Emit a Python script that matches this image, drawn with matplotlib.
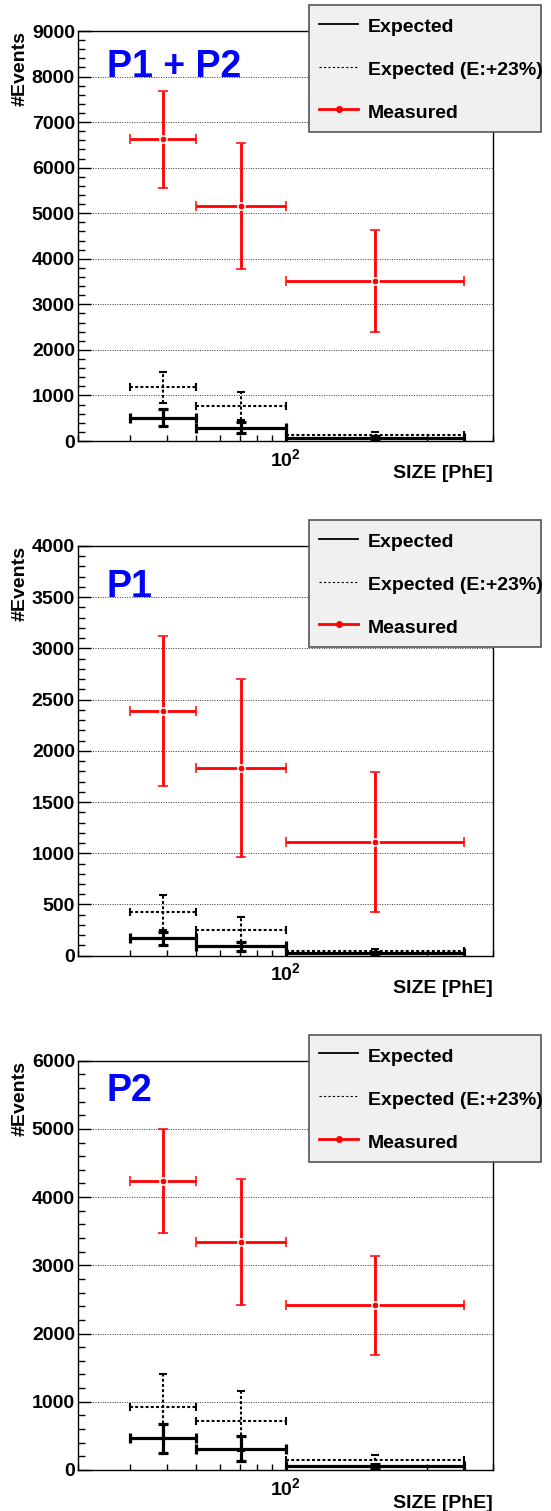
import numpy as np
import matplotlib
matplotlib.use('Agg')
import matplotlib.pyplot as plt
from matplotlib.ticker import MultipleLocator, FixedLocator, FuncFormatter, LogLocator, NullFormatter
from matplotlib.lines import Line2D

plt.rcParams['font.family'] = ['Liberation Sans', 'DejaVu Sans']
plt.rcParams['font.weight'] = 'bold'
plt.rcParams['mathtext.fontset'] = 'custom'
plt.rcParams['mathtext.rm'] = 'Liberation Sans:bold'
plt.rcParams['mathtext.bf'] = 'Liberation Sans:bold'
plt.rcParams['mathtext.it'] = 'Liberation Sans:bold:italic'

# ---------------- data ----------------
bin_lo = [30, 50, 100]
bin_hi = [50, 100, 400]
bin_center = [38.7, 70.7, 200.0]

panel_titles = ['P1 + P2', 'P1', 'P2']
legend_labels = ['Expected', 'Expected (E:+23%)', 'Measured']
x_label = 'SIZE [PhE]'
y_label = '#Events'
y_max = [9000, 4000, 6000]
y_major = [1000, 500, 1000]
y_minor = [200, 100, 200]

# P1 + P2
meas_p12 = [6620, 5160, 3515]
meas_err_p12 = [1065, 1390, 1115]
exp_p12 = [514, 293, 75]
exp_err_p12 = [185, 125, 40]
exp23_p12 = [1175, 770, 132]
exp23_err_p12 = [340, 310, 66]

# P1
meas_p1 = [2390, 1833, 1107]
meas_err_p1 = [730, 867, 683]
exp_p1 = [170, 92, 25]
exp_err_p1 = [65, 45, 15]
exp23_p1 = [424, 254, 44]
exp23_err_p1 = [170, 121, 22]

# P2
meas_p2 = [4237, 3339, 2414]
meas_err_p2 = [768, 923, 728]
exp_p2 = [464, 313, 54]
exp_err_p2 = [215, 180, 30]
exp23_p2 = [929, 723, 142]
exp23_err_p2 = [474, 440, 78]

panels = [
    (meas_p12, meas_err_p12, exp_p12, exp_err_p12, exp23_p12, exp23_err_p12),
    (meas_p1, meas_err_p1, exp_p1, exp_err_p1, exp23_p1, exp23_err_p1),
    (meas_p2, meas_err_p2, exp_p2, exp_err_p2, exp23_p2, exp23_err_p2),
]

# ---------------- layout (pixels) ----------------
W, H = 551, 1511
fig = plt.figure(figsize=(W / 100, H / 100), dpi=100)
fig.patch.set_facecolor('white')

ax_left, ax_right = 78, 493
ax_tops = [31, 546, 1060.7]
ax_bots = [441, 955.7, 1470]
title_base = [77, 596.7, 1100.7]
legend_tops = [5, 520, 1034.7]
legend_left, legend_right, legend_h = 309, 541, 128

xc = np.array(bin_center)
xerr = [xc - np.array(bin_lo), np.array(bin_hi) - xc]

for i, (meas, meas_err, exp, exp_err, e23, e23_err) in enumerate(panels):
    top, bot = ax_tops[i], ax_bots[i]
    ax = fig.add_axes([ax_left / W, 1 - bot / H, (ax_right - ax_left) / W, (bot - top) / H])
    ax.set_xscale('log')
    ax.set_xlim(20, 500)
    ax.set_ylim(0, y_max[i])

    # dashed expected (E:+23%)
    eb = ax.errorbar(xc, e23, xerr=xerr, yerr=e23_err, fmt='none', ecolor='black',
                     elinewidth=1.5, capsize=3.2, capthick=1.5, zorder=3)
    for lc in eb[2]:
        lc.set_linestyle((0, (1.4, 1.1)))
    # solid expected
    ax.errorbar(xc, exp, xerr=xerr, yerr=exp_err, fmt='none', ecolor='black',
                elinewidth=2.3, capsize=3.5, capthick=2.3, zorder=4)
    # measured
    ax.errorbar(xc, meas, xerr=xerr, yerr=meas_err, fmt='o', color='red', ecolor='red',
                ms=5.2, mfc='red', mec='white', mew=1.1,
                elinewidth=2.0, capsize=3.5, capthick=2.0, zorder=5)

    # axes styling
    for s in ax.spines.values():
        s.set_linewidth(1.0)
        s.set_color('black')
    ax.yaxis.set_major_locator(MultipleLocator(y_major[i]))
    ax.yaxis.set_minor_locator(MultipleLocator(y_minor[i]))
    ax.xaxis.set_major_locator(FixedLocator([100]))
    ax.xaxis.set_major_formatter(FuncFormatter(lambda v, p: r'$\mathrm{10^{2}}$'))
    ax.xaxis.set_minor_locator(LogLocator(base=10, subs=np.arange(2, 10)))
    ax.xaxis.set_minor_formatter(NullFormatter())
    ax.tick_params(axis='y', which='major', direction='in', length=9, width=1.0,
                   pad=2.2, labelsize=14, right=False)
    ax.tick_params(axis='y', which='minor', direction='in', length=5, width=1.0, right=False)
    ax.tick_params(axis='x', which='major', direction='in', length=6.5, width=1.0,
                   pad=5, labelsize=14, top=False)
    ax.tick_params(axis='x', which='minor', direction='in', length=4.3, width=1.0, top=False)
    for lab in ax.get_yticklabels() + ax.get_xticklabels():
        lab.set_fontweight('bold')

    ax.yaxis.grid(True, which='major', linestyle=(0, (1, 1.5)), color='#333333', linewidth=0.7)
    ax.set_axisbelow(True)

    ax.set_ylabel(y_label, fontsize=14, fontweight='bold', loc='top')
    ax.yaxis.set_label_coords((20 - ax_left) / (ax_right - ax_left), 1.0)
    ax.yaxis.label.set_verticalalignment('center')
    ax.set_xlabel(x_label, fontsize=14, fontweight='bold', loc='right')
    ax.xaxis.set_label_coords(1.0, -33 / (bot - top))
    ax.xaxis.label.set_verticalalignment('center')

    fig.text(107 / W, 1 - title_base[i] / H, panel_titles[i], fontsize=27,
             fontweight='bold', color='#0000ff', va='baseline', ha='left')

    h1 = Line2D([], [], color='black', lw=1.3)
    h2 = Line2D([], [], color='black', lw=0.8, ls=(0, (2, 2)))
    h3 = Line2D([], [], color='red', lw=2.0, marker='o', ms=4)
    ltop = legend_tops[i]
    leg = ax.legend([h1, h2, h3], legend_labels, loc='upper left',
                    bbox_to_anchor=(legend_left / W, 1 - (ltop + legend_h) / H,
                                    (legend_right - legend_left) / W, legend_h / H),
                    bbox_transform=fig.transFigure, mode='expand', borderaxespad=0,
                    frameon=True, fancybox=False, facecolor='#f0f0f0', edgecolor='#555555',
                    framealpha=1, prop={'size': 14, 'weight': 'bold'}, handlelength=2.0,
                    handleheight=1.25, handletextpad=0.5, borderpad=0.52,
                    labelspacing=1.14, numpoints=1)
    leg.get_frame().set_linewidth(1.2)
    leg.set_zorder(10)

fig.savefig('out.png', dpi=100, facecolor='white')
